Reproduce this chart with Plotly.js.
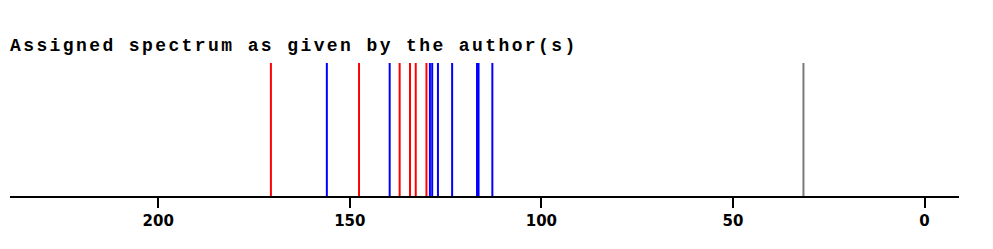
<!DOCTYPE html>
<html>
<head>
<meta charset="utf-8">
<script src="https://cdn.plot.ly/plotly-3.0.1.min.js"></script>
<style>
html,body{margin:0;padding:0;background:#fff;}
#chart{width:993px;height:249px;}
.gtitle{letter-spacing:2.4px;}
</style>
</head>
<body>
<div id="chart"></div>
<script>
// Chemical shifts (ppm)
const redShifts = [170.6, 147.6, 137.0, 134.3, 132.8, 130.0];
const blueShifts = [156.0, 139.6, 129.1, 128.5, 127.0, 123.3, 116.8, 116.4, 112.8];
const grayShifts = [31.6];
const tickValues = [200, 150, 100, 50, 0];
const tickLabels = ["200", "150", "100", "50", "0"];
const stickHeight = 1;

function sticks(shifts, color) {
  const x = [], y = [];
  shifts.forEach(s => { x.push(s, s, null); y.push(0, stickHeight, null); });
  return {x, y, type: 'scatter', mode: 'lines', line: {color, width: 2}, hoverinfo: 'x', showlegend: false};
}

const data = [
  sticks(grayShifts, '#7a7a7a'),
  sticks(redShifts, '#ff0000'),
  sticks(blueShifts, '#0000ff')
];

const layout = {
  width: 993, height: 249,
  margin: {l: 10, r: 34, t: 63, b: 53},
  paper_bgcolor: '#fff', plot_bgcolor: '#fff',
  title: {
    text: 'Assigned spectrum as given by the author(s)',
    font: {family: 'Liberation Mono', size: 18, weight: 'bold', color: '#000'},
    x: 0, xref: 'paper', xanchor: 'left',
    y: 1 - 45/249, yref: 'container', yanchor: 'middle'
  },
  xaxis: {
    range: [238.7, -9.0],
    tickvals: tickValues, ticktext: tickLabels,
    ticks: 'outside', ticklen: 10, tickwidth: 2, tickcolor: '#000',
    showline: true, linecolor: '#000', linewidth: 2,
    showgrid: false, zeroline: false,
    tickfont: {family: 'DejaVu Sans', size: 15, weight: 'bold', color: '#000'}
  },
  yaxis: {range: [0, 1], visible: false, showgrid: false, zeroline: false, fixedrange: true}
};

Plotly.newPlot('chart', data, layout, {displayModeBar: false, staticPlot: true});
</script>
</body>
</html>
